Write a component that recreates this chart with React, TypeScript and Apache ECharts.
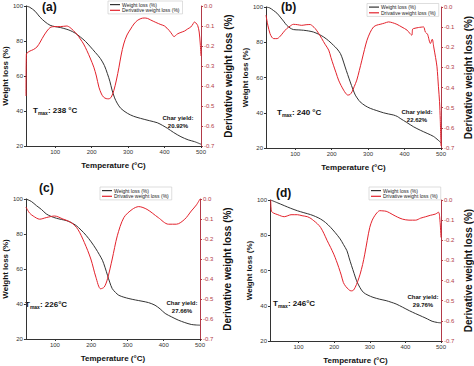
import React, { useEffect, useRef } from "react";
import * as echarts from "echarts";

// ---------- data ----------
const xTicks = [100, 200, 300, 400, 500];

// (a)
const aTw = [20, 30, 45, 58, 72, 86, 100, 114, 130, 141, 155, 169, 183, 197, 210, 224, 235, 243, 250, 256, 263, 270, 280, 298, 315, 334, 358, 380, 395, 408, 425, 445, 465, 482, 500];
const aW = [100, 99.3, 97, 93.7, 91, 89, 88.2, 87.7, 86.8, 86, 84.5, 82.3, 79.8, 76.6, 73.5, 70, 66, 61.5, 57, 52, 47.5, 44.5, 41.5, 38.7, 37, 35.8, 34.5, 33.3, 31.7, 30.1, 27.7, 25.3, 23.5, 22.5, 21];
const aTd = [20, 21, 25, 31, 40, 50, 59, 70, 86, 100, 114, 132, 141, 150, 160, 169, 178, 187, 196, 206, 213, 220, 227, 233, 240, 247, 254, 261, 268, 275, 281, 288, 297, 307, 316, 325, 335, 344, 353, 362, 376, 390, 400, 413, 420, 426, 435, 445, 455, 463, 472, 478, 482, 486, 491, 495, 498, 500];
const aD = [-0.45, -0.24, -0.232, -0.225, -0.218, -0.205, -0.18, -0.145, -0.108, -0.103, -0.103, -0.1, -0.108, -0.123, -0.142, -0.165, -0.19, -0.223, -0.26, -0.306, -0.35, -0.406, -0.44, -0.456, -0.463, -0.464, -0.455, -0.422, -0.37, -0.306, -0.245, -0.19, -0.145, -0.115, -0.09, -0.073, -0.063, -0.06, -0.062, -0.07, -0.082, -0.093, -0.1, -0.123, -0.14, -0.153, -0.14, -0.132, -0.125, -0.115, -0.105, -0.09, -0.08, -0.085, -0.098, -0.13, -0.19, -0.25];

// (b)
const bTw = [20, 30, 40, 50, 59, 68, 77, 86, 95, 110, 123, 137, 150, 164, 178, 192, 205, 215, 224, 230, 237, 244, 251, 258, 265, 272, 278, 292, 306, 324, 342, 356, 370, 380, 388, 406, 425, 443, 462, 480, 500];
const bW = [100, 99.5, 98.1, 96.5, 94.3, 92, 89.6, 88.1, 87.2, 87, 86.8, 86.4, 85.8, 84.6, 83, 80.8, 78.3, 76.2, 73.6, 70.5, 66, 61.7, 57.5, 53.5, 50, 47.8, 46.2, 44, 42.5, 41.2, 40, 39.3, 38.7, 37.9, 36.8, 34.5, 32, 30.1, 28.3, 26.5, 23];
const bTd = [20, 25, 31, 36, 41, 50, 59, 68, 77, 86, 95, 107, 118, 130, 141, 148, 155, 164, 173, 182, 192, 198, 205, 212, 219, 226, 233, 238, 244, 250, 256, 262, 269, 276, 283, 290, 297, 306, 315, 324, 333, 345, 356, 367, 379, 393, 407, 414, 420, 422, 425, 438, 452, 457, 463, 471, 476, 480, 485, 489, 493, 496, 498, 500];
const bD = [-0.04, -0.09, -0.132, -0.15, -0.157, -0.157, -0.145, -0.125, -0.107, -0.095, -0.086, -0.088, -0.091, -0.088, -0.087, -0.095, -0.107, -0.13, -0.157, -0.185, -0.214, -0.25, -0.289, -0.326, -0.363, -0.39, -0.413, -0.427, -0.437, -0.435, -0.421, -0.395, -0.363, -0.315, -0.264, -0.212, -0.165, -0.125, -0.099, -0.09, -0.086, -0.08, -0.074, -0.078, -0.086, -0.1, -0.115, -0.13, -0.14, -0.11, -0.107, -0.102, -0.099, -0.124, -0.135, -0.181, -0.16, -0.198, -0.25, -0.297, -0.396, -0.47, -0.56, -0.69];

// (c)
const cTw = [20, 35, 49, 63, 76, 90, 104, 118, 131, 145, 158, 172, 186, 200, 213, 222, 231, 238, 245, 251, 258, 267, 276, 290, 304, 322, 340, 358, 376, 390, 404, 422, 440, 458, 476, 490, 500];
const cW = [100, 98.6, 96.2, 94, 91.5, 90, 89, 88.3, 87.7, 86.5, 84.9, 82.3, 79.2, 75.5, 71.5, 68.4, 65, 61, 56.4, 52.5, 48.8, 46.6, 45, 43.9, 43.1, 42.3, 41.6, 40.8, 39.3, 37.2, 34.6, 32.6, 30.8, 29.4, 28.3, 28, 27.9];
const cTd = [20, 30, 40, 58, 76, 99, 122, 145, 163, 181, 199, 213, 226, 236, 245, 258, 272, 290, 313, 331, 354, 385, 413, 435, 458, 476, 490, 500];
const cD = [-0.04, -0.07, -0.085, -0.101, -0.093, -0.085, -0.1, -0.118, -0.151, -0.217, -0.3, -0.391, -0.449, -0.44, -0.399, -0.3, -0.184, -0.093, -0.052, -0.038, -0.052, -0.093, -0.126, -0.126, -0.101, -0.06, -0.03, 0];

// (d)
const dTw = [22, 40, 60, 78, 97, 115, 134, 148, 162, 176, 190, 203, 217, 226, 236, 242, 249, 256, 263, 272, 282, 295, 309, 328, 346, 360, 374, 392, 411, 429, 448, 462, 475, 490, 500];
const dW = [100, 98.5, 96.8, 95.3, 93.9, 92.8, 91.7, 90.6, 89.2, 87.2, 84.5, 81.5, 77.9, 74.8, 71.2, 67.2, 62.7, 58.4, 54.2, 50.5, 47.6, 46, 44.8, 43.7, 42.9, 42, 41, 39.2, 37.2, 35.5, 33.8, 32.5, 31.2, 30.5, 30.3];
const dTd = [22, 24, 30, 42, 52, 60, 70, 79, 97, 110, 125, 135, 143, 153, 162, 171, 180, 190, 199, 206, 213, 220, 226, 233, 240, 245, 249, 254, 259, 266, 273, 280, 286, 293, 300, 307, 314, 321, 328, 337, 346, 355, 365, 378, 392, 410, 429, 443, 457, 470, 484, 493, 497, 500];
const dD = [0, -0.055, -0.065, -0.073, -0.08, -0.083, -0.078, -0.073, -0.073, -0.078, -0.083, -0.092, -0.103, -0.118, -0.136, -0.165, -0.2, -0.235, -0.269, -0.3, -0.335, -0.373, -0.41, -0.43, -0.443, -0.45, -0.451, -0.448, -0.434, -0.405, -0.368, -0.32, -0.269, -0.2, -0.136, -0.1, -0.078, -0.062, -0.053, -0.054, -0.056, -0.063, -0.073, -0.085, -0.095, -0.1, -0.1, -0.09, -0.083, -0.076, -0.07, -0.061, -0.1, -0.186];

const panelLabels = ["(a)", "(b)", "(c)", "(d)"];
const tmaxValues = [": 238 °C", ": 240 °C", ": 226°C", ": 246°C"];
const charYields = ["20.92%", "22.62%", "27.66%", "29.76%"];
const weightName = "Weight loss (%)";
const derivNames = ["Derivative weight loss (%)", "Drivative weight loss (%)", "Drivative weight loss (%)", "Drivative weight loss (%)"];

// ---------- layout ----------
const grids = [
  { left: 26, top: 6, width: 175, height: 140 },
  { left: 266, top: 7, width: 175, height: 141 },
  { left: 23, top: 199, width: 177, height: 140 },
  { left: 270, top: 200, width: 174, height: 141 },
];
const labelPos = [[42, 7], [281, 7], [39, 188], [276, 193]];
const tmaxPos = [[33, 110], [277, 112], [25, 304], [273, 303]];
const charPos = [[178, 114], [417, 108], [182, 299], [423, 293]];
const legendPos = [[108, 1], [367, 3.5], [100, 187], [369, 187]];

const FONT = "Liberation Sans, Arial, sans-serif";
const DARK = "#333333";
const RED = "#e3222c";
const RAXIS = "#b23a48";

const zip = (xs: number[], ys: number[]) => xs.map((x, i) => [x, ys[i]]);
const weights = [zip(aTw, aW), zip(bTw, bW), zip(cTw, cW), zip(dTw, dW)];
const derivs = [zip(aTd, aD), zip(bTd, bD), zip(cTd, cD), zip(dTd, dD)];

export default function App() {
  const ref = useRef<HTMLDivElement>(null);
  useEffect(() => {
    if (!ref.current) return;
    const chart = echarts.init(ref.current, undefined, { renderer: "svg" });
    const xAxis: any[] = [];
    const yAxis: any[] = [];
    const series: any[] = [];
    const legend: any[] = [];
    const graphic: any[] = [];
    grids.forEach((g, i) => {
      xAxis.push({
        type: "value",
        gridIndex: i,
        min: 20,
        max: 500,
        name: "Temperature (°C)",
        nameLocation: "middle",
        nameGap: 15,
        nameTextStyle: { fontFamily: FONT, fontWeight: "bold", fontSize: 8, color: "#111" },
        axisLine: { show: true, onZero: false, lineStyle: { color: DARK, width: 1 } },
        axisTick: { show: true, length: 2, customValues: xTicks, lineStyle: { color: DARK } },
        axisLabel: { fontSize: 6, margin: 3, color: DARK, fontFamily: FONT, customValues: xTicks },
        splitLine: { show: false },
      });
      yAxis.push({
        type: "value",
        gridIndex: i,
        min: 20,
        max: 100,
        interval: 20,
        position: "left",
        name: "Weight loss (%)",
        nameLocation: "middle",
        nameGap: 14,
        nameTextStyle: { fontFamily: FONT, fontWeight: "bold", fontSize: 8, color: "#111" },
        axisLine: { show: true, lineStyle: { color: DARK, width: 1 } },
        axisTick: { show: true, length: 2, lineStyle: { color: DARK } },
        axisLabel: { fontSize: 6, margin: 3, color: DARK, fontFamily: FONT },
        splitLine: { show: false },
      });
      yAxis.push({
        type: "value",
        gridIndex: i,
        min: -0.7,
        max: 0,
        interval: 0.1,
        position: "right",
        name: "Derivative weight loss (%)",
        nameLocation: "middle",
        nameGap: 22,
        nameTextStyle: { fontFamily: FONT, fontWeight: "bold", fontSize: 10, color: "#111" },
        axisLine: { show: true, lineStyle: { color: RAXIS, width: 1 } },
        axisTick: { show: true, length: 2, lineStyle: { color: RAXIS } },
        axisLabel: {
          fontSize: 6,
          margin: 3,
          color: RAXIS,
          fontFamily: FONT,
          formatter: (v: number) => (Math.abs(v) < 1e-9 ? "0.0" : v.toFixed(1)),
        },
        splitLine: { show: false },
      });
      series.push({
        type: "line",
        name: weightName,
        xAxisIndex: i,
        yAxisIndex: 2 * i,
        data: weights[i],
        showSymbol: false,
        smooth: 0.3,
        lineStyle: { color: DARK, width: 1 },
        itemStyle: { color: DARK },
      });
      series.push({
        type: "line",
        name: derivNames[i],
        xAxisIndex: i,
        yAxisIndex: 2 * i + 1,
        data: derivs[i],
        showSymbol: false,
        smooth: 0.3,
        lineStyle: { color: RED, width: 1 },
        itemStyle: { color: RED },
      });
      legend.push({
        left: legendPos[i][0],
        top: legendPos[i][1],
        orient: "vertical",
        data: [weightName, derivNames[i]],
        icon: "rect",
        itemWidth: 10,
        itemHeight: 1.2,
        itemGap: 0.5,
        selectedMode: false,
        padding: [1, 3, 1, 2],
        backgroundColor: "#ffffff",
        borderColor: "#c8c8c8",
        borderWidth: 0.6,
        textStyle: { fontSize: 5, color: "#222", fontFamily: FONT, lineHeight: 5.2, padding: [0, 0, 0, -3] },
      });
      graphic.push({
        type: "text",
        x: labelPos[i][0],
        y: labelPos[i][1],
        style: {
          text: panelLabels[i],
          fontSize: 12,
          fontWeight: "bold",
          fontFamily: FONT,
          fill: "#111",
          textAlign: "left",
          textVerticalAlign: "middle",
        },
      });
      graphic.push({
        type: "text",
        x: tmaxPos[i][0],
        y: tmaxPos[i][1],
        style: {
          text: "{t|T}{s|max}{t|" + tmaxValues[i] + "}",
          textAlign: "left",
          textVerticalAlign: "middle",
          rich: {
            t: { fontSize: 8, fontWeight: "bold", fontFamily: FONT, fill: "#111", lineHeight: 10 },
            s: { fontSize: 5, fontWeight: "bold", fontFamily: FONT, fill: "#111", lineHeight: 10, verticalAlign: "bottom", padding: [3, 0, 0, 0] },
          },
        },
      });
      graphic.push({
        type: "text",
        x: charPos[i][0],
        y: charPos[i][1],
        style: {
          text: "Char yield:\n" + charYields[i],
          fontSize: 6,
          fontWeight: "bold",
          fontFamily: FONT,
          fill: "#111",
          lineHeight: 8,
          textAlign: "center",
          textVerticalAlign: "top",
        },
      });
    });
    chart.setOption({
      animation: false,
      backgroundColor: "#ffffff",
      grid: grids.map((g) => ({ ...g, containLabel: false })),
      xAxis,
      yAxis,
      series,
      legend,
      graphic,
    });
    return () => chart.dispose();
  }, []);
  return (
    <div
      ref={ref}
      style={{ position: "fixed", left: 0, top: 0, width: 474, height: 366, background: "#fff" }}
    />
  );
}
